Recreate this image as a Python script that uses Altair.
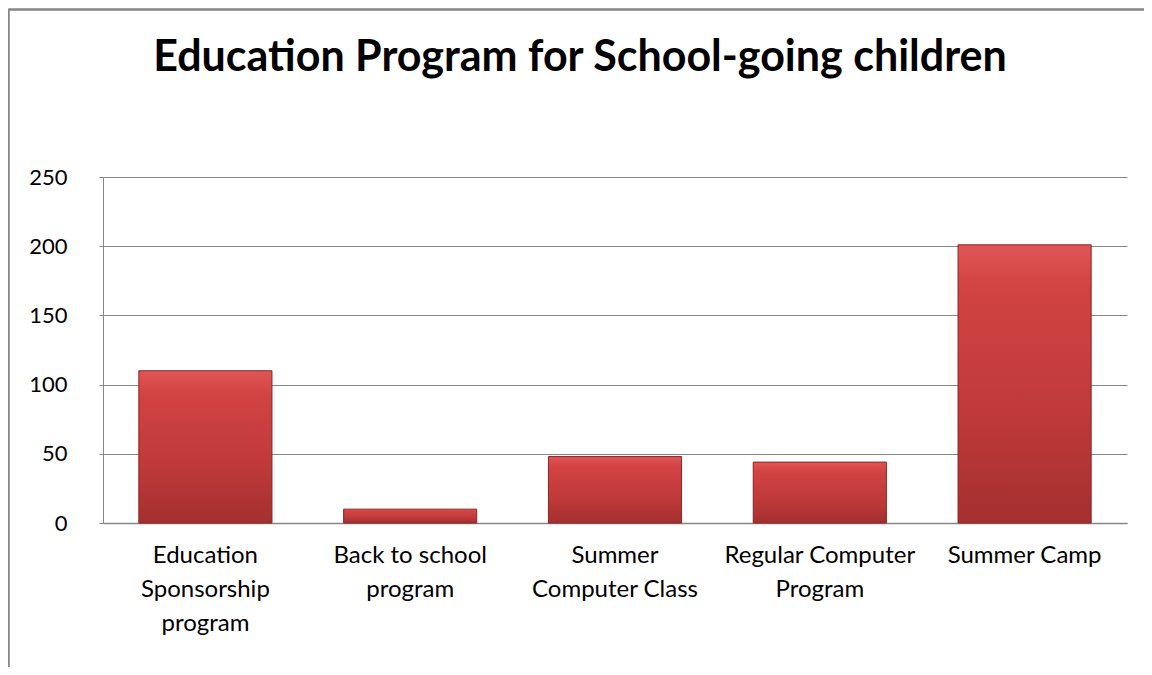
import altair as alt
import pandas as pd

categories = [
    "Education\nSponsorship\nprogram",
    "Back to school\nprogram",
    "Summer\nComputer Class",
    "Regular Computer\nProgram",
    "Summer Camp",
]
values = [110, 10, 48, 44, 201]
y_ticks = [0, 50, 100, 150, 200, 250]

df = pd.DataFrame({"program": categories, "count": values})

FONT = "Lato"
GRID = "#868686"

bar_fill = alt.Gradient(
    gradient="linear",
    stops=[
        alt.GradientStop(color="#e05656", offset=0),
        alt.GradientStop(color="#d24343", offset=0.15),
        alt.GradientStop(color="#c03a3a", offset=0.6),
        alt.GradientStop(color="#a52f2f", offset=1),
    ],
    x1=0, x2=0, y1=0, y2=1,
)

bars = alt.Chart(df).mark_bar(
    color=bar_fill, stroke="#8a2525", strokeWidth=1
).encode(
    x=alt.X(
        "program:N",
        sort=None,
        scale=alt.Scale(paddingInner=0.35, paddingOuter=0.175),
        axis=alt.Axis(
            title=None,
            labelAngle=0,
            labelExpr="split(datum.value, '\\n')",
            labelFont=FONT,
            labelFontSize=24,
            labelColor="#000000",
            labelLineHeight=34,
            labelPadding=20,
            labelBaseline="top",
            labelLimit=400,
            ticks=False,
            domainColor=GRID,
            domainWidth=1.5,
            grid=False,
        ),
    ),
    y=alt.Y(
        "count:Q",
        scale=alt.Scale(domain=[0, 250], nice=False),
        axis=alt.Axis(
            title=None,
            values=y_ticks,
            labelFont=FONT,
            labelFontSize=22,
            labelColor="#000000",
            labelPadding=32,
            tickSize=4,
            tickColor=GRID,
            domainColor=GRID,
            gridColor=GRID,
            gridWidth=1,
        ),
    ),
)

frame_top = alt.Chart(df).mark_rule(color=GRID, strokeWidth=1.5).encode(
    x=alt.value(-94.5), x2=alt.value(1050), y=alt.value(-167.5)
)
frame_left = alt.Chart(df).mark_rule(color=GRID, strokeWidth=1.5).encode(
    x=alt.value(-94.5), y=alt.value(-167.5), y2=alt.value(500)
)

chart = alt.layer(bars, frame_top, frame_left).properties(
    width=1024,
    height=346,
    padding={"left": 95, "top": 169, "right": 17, "bottom": 144},
    autosize=alt.AutoSizeParams(type="none"),
    title=alt.TitleParams(
        "Education Program for School-going children",
        font=FONT,
        fontSize=43,
        fontWeight="bold",
        color="#000000",
        anchor="middle",
        frame="group",
        dx=-35,
        dy=71,
        offset=0,
    ),
).configure_view(stroke=None)

chart.save("out.html", embed_options={"renderer": "svg", "actions": False})
